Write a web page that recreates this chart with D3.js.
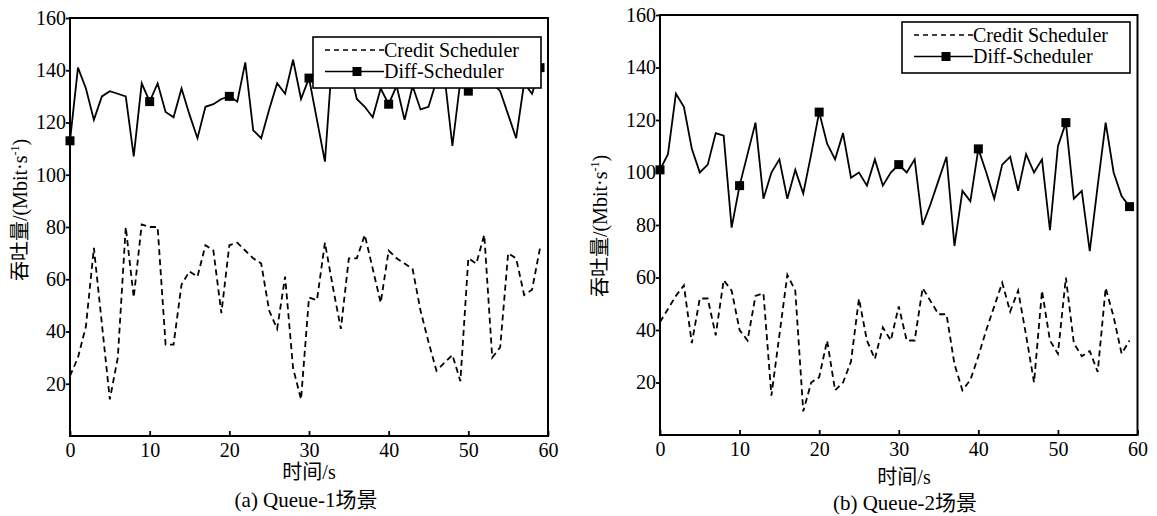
<!DOCTYPE html>
<html>
<head>
<meta charset="utf-8">
<script src="https://cdn.jsdelivr.net/npm/d3@7"></script>
<style>
body { margin: 0; background: #fff; }
svg { display: block; }
</style>
</head>
<body>
<script>
// throughput per second
var creditA = [23,30,42,72,43,14,30,80,53,81,
               80,80,35,35,58,63,61,73,71,47,
               73,74,71,68,66,48,41,61,26,14,
               53,52,74,57,41,68,68,77,64,51,
               71,68,66,64,48,36,25,28,31,21,
               68,66,77,30,34,70,68,54,56,72];
var diffA = [113,141,133,121,130,132,131,130,107,135,
             128,135,124,122,133,123,114,126,127,129,
             130,128,143,117,114,125,135,131,144,129,
             137,121,105,148,140,142,129,126,122,133,
             127,134,121,134,125,126,136,138,111,136,
             132,135,136,135,132,123,114,135,131,141];
var creditB = [43,48,53,57,35,52,52,38,59,55,
               40,36,53,54,15,38,61,55,9,20,
               22,36,17,20,28,52,36,29,41,36,
               49,36,36,56,51,46,46,27,17,21,
               30,40,49,58,47,55,38,20,55,36,
               31,60,35,30,32,24,56,45,31,36];
var diffB = [101,107,130,125,109,100,103,115,114,79,
             95,107,119,90,100,105,90,101,92,107,
             123,111,105,115,98,100,95,105,95,100,
             103,100,105,80,88,97,106,72,93,89,
             109,100,90,103,106,93,107,100,105,78,
             110,119,90,93,70,95,119,100,91,87];
var markA = [0,10,20,30,40,50,59]; // indices that get a square
var markB = [0,10,20,30,40,51,59];

var xTicks = [0,10,20,30,40,50,60];
var yTicks = [20,40,60,80,100,120,140,160];
var legendNames = ["Credit Scheduler", "Diff-Scheduler"];
var captions = ["(a) Queue-1场景", "(b) Queue-2场景"];
var xTitle = "时间/s";

var FONT = '"Liberation Serif", "Noto Sans CJK SC", serif';
var CJK = '"Noto Sans CJK SC", sans-serif';
var W = 1157, H = 516;

var svg = d3.select("body").append("svg")
    .attr("width", W)
    .attr("height", H);

var panels = [
  {credit: creditA, diff: diffA, marks: markA, caption: captions[0],
   x0: 70, x1: 548, y0: 436, y1: 18, leg: [313, 37],
   ylab: [20, 210], xlab: [309, 479], cap: [306, 507]},
  {credit: creditB, diff: diffB, marks: markB, caption: captions[1],
   x0: 660, x1: 1137.5, y0: 435, y1: 15, leg: [902, 22],
   ylab: [600, 226], xlab: [904, 484], cap: [905, 510]}
];

var drawPanel = function(p) {
  var x = d3.scaleLinear().domain([0, 60]).range([p.x0, p.x1]);
  var y = d3.scaleLinear().domain([0, 160]).range([p.y0, p.y1]);
  var g = svg.append("g");

  // frame
  g.append("rect")
    .attr("x", p.x0).attr("y", p.y1)
    .attr("width", p.x1 - p.x0).attr("height", p.y0 - p.y1)
    .attr("fill", "none").attr("stroke", "#000").attr("stroke-width", 2);

  // x axis, ticks point inward
  var xa = g.append("g")
    .attr("transform", "translate(0," + p.y0 + ")")
    .call(d3.axisBottom(x).tickValues(xTicks).tickSize(-5).tickPadding(7));
  xa.select(".domain").remove();

  // y axis, ticks point outward
  var ya = g.append("g")
    .attr("transform", "translate(" + p.x0 + ",0)")
    .call(d3.axisLeft(y).tickValues(yTicks).tickSize(4).tickPadding(0));
  ya.select(".domain").remove();

  [xa, ya].forEach(function(a) {
    a.attr("font-family", FONT).attr("font-size", 20);
    a.selectAll("line").attr("stroke", "#000").attr("stroke-width", 1.8);
    a.selectAll("text").attr("fill", "#000");
  });

  var line = d3.line()
    .x(function(d, i) { return x(i); })
    .y(function(d) { return y(d); });

  g.append("path").datum(p.credit)
    .attr("d", line)
    .attr("fill", "none").attr("stroke", "#000")
    .attr("stroke-width", 1.8).attr("stroke-dasharray", "6,4");

  g.append("path").datum(p.diff)
    .attr("d", line)
    .attr("fill", "none").attr("stroke", "#000")
    .attr("stroke-width", 1.8);

  g.selectAll("rect.mk")
    .data(p.marks)
    .enter().append("rect")
    .attr("class", "mk")
    .attr("x", function(i) { return x(i) - 4.5; })
    .attr("y", function(i) { return y(p.diff[i]) - 4.5; })
    .attr("width", 9).attr("height", 9)
    .attr("fill", "#000");

  // legend box sits on top of the lines
  var lx = p.leg[0], ly = p.leg[1];
  var lg = g.append("g");
  lg.append("rect")
    .attr("x", lx).attr("y", ly).attr("width", 228).attr("height", 51)
    .attr("fill", "#fff").attr("stroke", "#000").attr("stroke-width", 1.6);
  lg.append("line")
    .attr("x1", lx + 12).attr("x2", lx + 71)
    .attr("y1", ly + 13).attr("y2", ly + 13)
    .attr("stroke", "#000").attr("stroke-width", 1.4).attr("stroke-dasharray", "5,4");
  lg.append("line")
    .attr("x1", lx + 12).attr("x2", lx + 71)
    .attr("y1", ly + 34.5).attr("y2", ly + 34.5)
    .attr("stroke", "#000").attr("stroke-width", 1.6);
  lg.append("rect")
    .attr("x", lx + 44 - 4.5).attr("y", ly + 34.5 - 4.5)
    .attr("width", 9).attr("height", 9).attr("fill", "#000");
  lg.selectAll("text")
    .data(legendNames)
    .enter().append("text")
    .attr("x", lx + 71)
    .attr("y", function(d, i) { return ly + 20 + i * 21; })
    .attr("font-family", FONT).attr("font-size", 20)
    .text(function(d) { return d; });

  // y title with superscript
  var yt = g.append("text")
    .attr("transform", "translate(" + p.ylab[0] + "," + p.ylab[1] + ") rotate(-90)")
    .attr("text-anchor", "middle")
    .attr("dy", "0.35em")
    .attr("font-family", FONT).attr("font-size", 20);
  yt.append("tspan").attr("font-family", CJK).text("吞吐量");
  yt.append("tspan").text("/(Mbit·s");
  yt.append("tspan").attr("font-size", 12).attr("dy", -8).text("-1");
  yt.append("tspan").attr("dy", 8).text(")");

  g.append("text")
    .attr("x", p.xlab[0]).attr("y", p.xlab[1])
    .attr("text-anchor", "middle")
    .attr("font-family", FONT).attr("font-size", 20)
    .text(xTitle);

  g.append("text")
    .attr("x", p.cap[0]).attr("y", p.cap[1])
    .attr("text-anchor", "middle")
    .attr("font-family", FONT).attr("font-size", 21)
    .text(p.caption);
};

panels.forEach(drawPanel);
</script>
</body>
</html>
